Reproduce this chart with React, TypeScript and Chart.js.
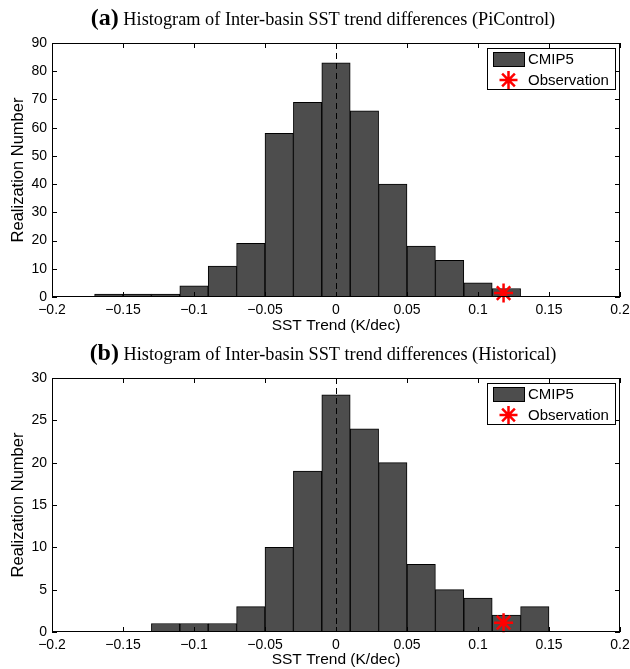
import React, { useEffect, useRef } from 'react';
import { Chart, registerables } from 'chart.js';

Chart.register(...registerables);

// ---- data ----
const binCenters = [-0.16, -0.14, -0.12, -0.1, -0.08, -0.06, -0.04, -0.02, 0, 0.02, 0.04, 0.06, 0.08, 0.1, 0.12, 0.14];
const piControlCounts = [1, 1, 1, 4, 11, 19, 58, 69, 83, 66, 40, 18, 13, 5, 3, 0];
const historicalCounts = [0, 0, 1, 1, 1, 3, 10, 19, 28, 24, 20, 8, 5, 4, 2, 3];
const observationA = { x: 0.118, y: 1.4 };
const observationB = { x: 0.118, y: 1.1 };
const xTickValues = [-0.2, -0.15, -0.1, -0.05, 0, 0.05, 0.1, 0.15, 0.2];
const yTickValuesA = [0, 10, 20, 30, 40, 50, 60, 70, 80, 90];
const yTickValuesB = [0, 5, 10, 15, 20, 25, 30];
const titleTextA = 'Histogram of Inter-basin SST trend differences (PiControl)';
const titleTextB = 'Histogram of Inter-basin SST trend differences (Historical)';
const legendLabels = ['CMIP5', 'Observation'];
const xAxisTitle = 'SST Trend (K/dec)';
const yAxisTitle = 'Realization Number';

const SANS = '"Liberation Sans", Arial, sans-serif';
const SERIF = '"Liberation Serif", "Times New Roman", serif';
const BAR_FILL = '#4d4d4d';

function fmtTick(v: number): string {
  const r = Number(v.toFixed(2));
  if (r === 0) return '0';
  return (r < 0 ? '\u2212' : '') + String(Math.abs(r));
}

function drawStar(ctx: CanvasRenderingContext2D, x: number, y: number, r: number) {
  ctx.save();
  ctx.strokeStyle = '#ff0000';
  ctx.lineWidth = 2.5;
  ctx.setLineDash([]);
  ctx.beginPath();
  ctx.moveTo(x - r, y); ctx.lineTo(x + r, y);
  ctx.moveTo(x, y - r); ctx.lineTo(x, y + r);
  const d = r * Math.SQRT1_2;
  ctx.moveTo(x - d, y - d); ctx.lineTo(x + d, y + d);
  ctx.moveTo(x - d, y + d); ctx.lineTo(x + d, y - d);
  ctx.stroke();
  ctx.restore();
}

const decorPlugin = {
  id: 'decor',
  afterDatasetsDraw(chart: any) {
    const { ctx, chartArea } = chart;
    const xs = chart.scales.x;
    const px = xs.getPixelForValue(0);
    ctx.save();
    ctx.strokeStyle = '#000';
    ctx.lineWidth = 1;
    ctx.setLineDash([6, 4]);
    ctx.beginPath();
    ctx.moveTo(Math.round(px) + 0.5, chartArea.top);
    ctx.lineTo(Math.round(px) + 0.5, chartArea.bottom);
    ctx.stroke();
    ctx.restore();
  },
  afterDraw(chart: any, _args: any, opts: any) {
    const { ctx, chartArea } = chart;
    const { left, right, top, bottom } = chartArea;
    const xs = chart.scales.x;
    const ys = chart.scales.y;
    ctx.save();
    // frame
    ctx.strokeStyle = '#000';
    ctx.lineWidth = 1;
    ctx.setLineDash([]);
    ctx.strokeRect(Math.round(left) + 0.5, Math.round(top) + 0.5, Math.round(right - left) - 1, Math.round(bottom - top) - 1);
    // inward ticks
    const tl = 5;
    ctx.beginPath();
    xs.ticks.forEach((t: any) => {
      const p = Math.round(xs.getPixelForValue(t.value)) + 0.5;
      ctx.moveTo(p, bottom); ctx.lineTo(p, bottom - tl);
      ctx.moveTo(p, top); ctx.lineTo(p, top + tl);
    });
    ys.ticks.forEach((t: any) => {
      const p = Math.round(ys.getPixelForValue(t.value)) + 0.5;
      ctx.moveTo(left, p); ctx.lineTo(left + tl, p);
      ctx.moveTo(right, p); ctx.lineTo(right - tl, p);
    });
    ctx.stroke();

    // title
    const cx = 323;
    const baseY = 25;
    ctx.fillStyle = '#000';
    ctx.textBaseline = 'alphabetic';
    ctx.textAlign = 'left';
    const boldFont = 'bold 24px ' + SERIF;
    const regFont = '18.3px ' + SERIF;
    ctx.font = boldFont;
    const w1 = ctx.measureText(opts.letter).width;
    ctx.font = regFont;
    const rest = ' ' + opts.title;
    const w2 = ctx.measureText(rest).width;
    const sx = cx - (w1 + w2) / 2;
    ctx.font = boldFont;
    ctx.fillText(opts.letter, sx, baseY);
    ctx.font = regFont;
    ctx.fillText(rest, sx + w1, baseY);

    // legend
    ctx.font = '15px ' + SANS;
    const tw = Math.max(...legendLabels.map((l) => ctx.measureText(l).width));
    const boxW = Math.round(6 + 31 + 4 + tw + 6);
    const boxH = 41;
    const bx = Math.round(right - 5 - boxW);
    const by = Math.round(top + 5);
    ctx.fillStyle = '#fff';
    ctx.fillRect(bx, by, boxW, boxH);
    ctx.strokeStyle = '#000';
    ctx.lineWidth = 1;
    ctx.strokeRect(bx + 0.5, by + 0.5, boxW, boxH);
    ctx.fillStyle = BAR_FILL;
    ctx.fillRect(bx + 6, by + 4, 31, 14);
    ctx.strokeRect(bx + 6.5, by + 4.5, 31, 14);
    drawStar(ctx, bx + 6 + 15.5, by + 32, 9);
    ctx.fillStyle = '#000';
    ctx.textBaseline = 'middle';
    ctx.fillText(legendLabels[0], bx + 6 + 31 + 4, by + 11.5);
    ctx.fillText(legendLabels[1], bx + 6 + 31 + 4, by + 32.5);
    ctx.restore();
  },
};

const starPlugin = {
  id: 'obsStar',
  afterDatasetsDraw(chart: any) {
    const xs = chart.scales.x;
    const ys = chart.scales.y;
    const ds = chart.data.datasets[1];
    if (!ds) return;
    ds.data.forEach((p: any) => {
      drawStar(chart.ctx, xs.getPixelForValue(p.x), ys.getPixelForValue(p.y), 9.5);
    });
  },
};

interface PanelProps {
  height: number;
  letter: string;
  title: string;
  counts: number[];
  obs: { x: number; y: number };
  yMax: number;
  yTicks: number[];
}

function Panel({ height, letter, title, counts, obs, yMax, yTicks }: PanelProps) {
  const ref = useRef<HTMLCanvasElement | null>(null);
  useEffect(() => {
    if (!ref.current) return;
    const bars = binCenters
      .map((x, i) => ({ x, y: counts[i] }))
      .filter((p) => p.y > 0);
    const chart = new Chart(ref.current, {
      type: 'bar',
      data: {
        datasets: [
          {
            type: 'bar',
            label: legendLabels[0],
            data: bars as any,
            backgroundColor: BAR_FILL,
            borderColor: '#000',
            borderWidth: 1,
            borderSkipped: 'start',
            barPercentage: 1,
            categoryPercentage: 1,
            order: 1,
          } as any,
          {
            type: 'scatter',
            label: legendLabels[1],
            data: [obs] as any,
            pointRadius: 0,
            pointHoverRadius: 0,
            borderColor: '#ff0000',
            backgroundColor: '#ff0000',
            order: 0,
          } as any,
        ],
      },
      options: {
        responsive: false,
        animation: false,
        events: [],
        layout: { padding: { top: 43, right: 10, left: 0, bottom: 0 } },
        plugins: {
          legend: { display: false },
          tooltip: { enabled: false },
          decor: { letter, title },
        } as any,
        scales: {
          x: {
            type: 'linear',
            min: -0.2,
            max: 0.2,
            offset: false,
            grid: { display: false, drawTicks: false },
            border: { display: false },
            afterBuildTicks: (s: any) => {
              s.ticks = xTickValues.map((v) => ({ value: v }));
            },
            afterFit: (s: any) => {
              s.height = height - 297;
              s.paddingLeft = 0;
              s.paddingRight = 0;
            },
            ticks: {
              autoSkip: false,
              maxRotation: 0,
              padding: 5,
              color: '#000',
              font: { family: SANS, size: 14 },
              callback: (v: any) => fmtTick(Number(v)),
            },
            title: {
              display: true,
              text: xAxisTitle,
              color: '#000',
              font: { family: SANS, size: 15.5 },
              padding: { top: 0, bottom: 0 },
            },
          },
          y: {
            type: 'linear',
            min: 0,
            max: yMax,
            grid: { display: false, drawTicks: false },
            border: { display: false },
            afterBuildTicks: (s: any) => {
              s.ticks = yTicks.map((v) => ({ value: v }));
            },
            afterFit: (s: any) => {
              s.width = 52;
            },
            ticks: {
              autoSkip: false,
              padding: 5,
              color: '#000',
              font: { family: SANS, size: 14 },
              callback: (v: any) => String(v),
            },
            title: {
              display: true,
              text: yAxisTitle,
              color: '#000',
              font: { family: SANS, size: 16.5 },
              padding: { top: 9, bottom: 0 },
            },
          },
        } as any,
      },
      plugins: [decorPlugin, starPlugin],
    });
    return () => chart.destroy();
  }, [height, letter, title, counts, obs, yMax, yTicks]);
  return <canvas ref={ref} width={630} height={height} style={{ display: 'block', width: 630, height }} />;
}

export default function App() {
  return (
    <div style={{ position: 'fixed', left: 0, top: 0, width: 630, height: 669, background: '#fff' }}>
      <Panel height={335} letter="(a)" title={titleTextA} counts={piControlCounts} obs={observationA} yMax={90} yTicks={yTickValuesA} />
      <Panel height={334} letter="(b)" title={titleTextB} counts={historicalCounts} obs={observationB} yMax={30} yTicks={yTickValuesB} />
    </div>
  );
}
